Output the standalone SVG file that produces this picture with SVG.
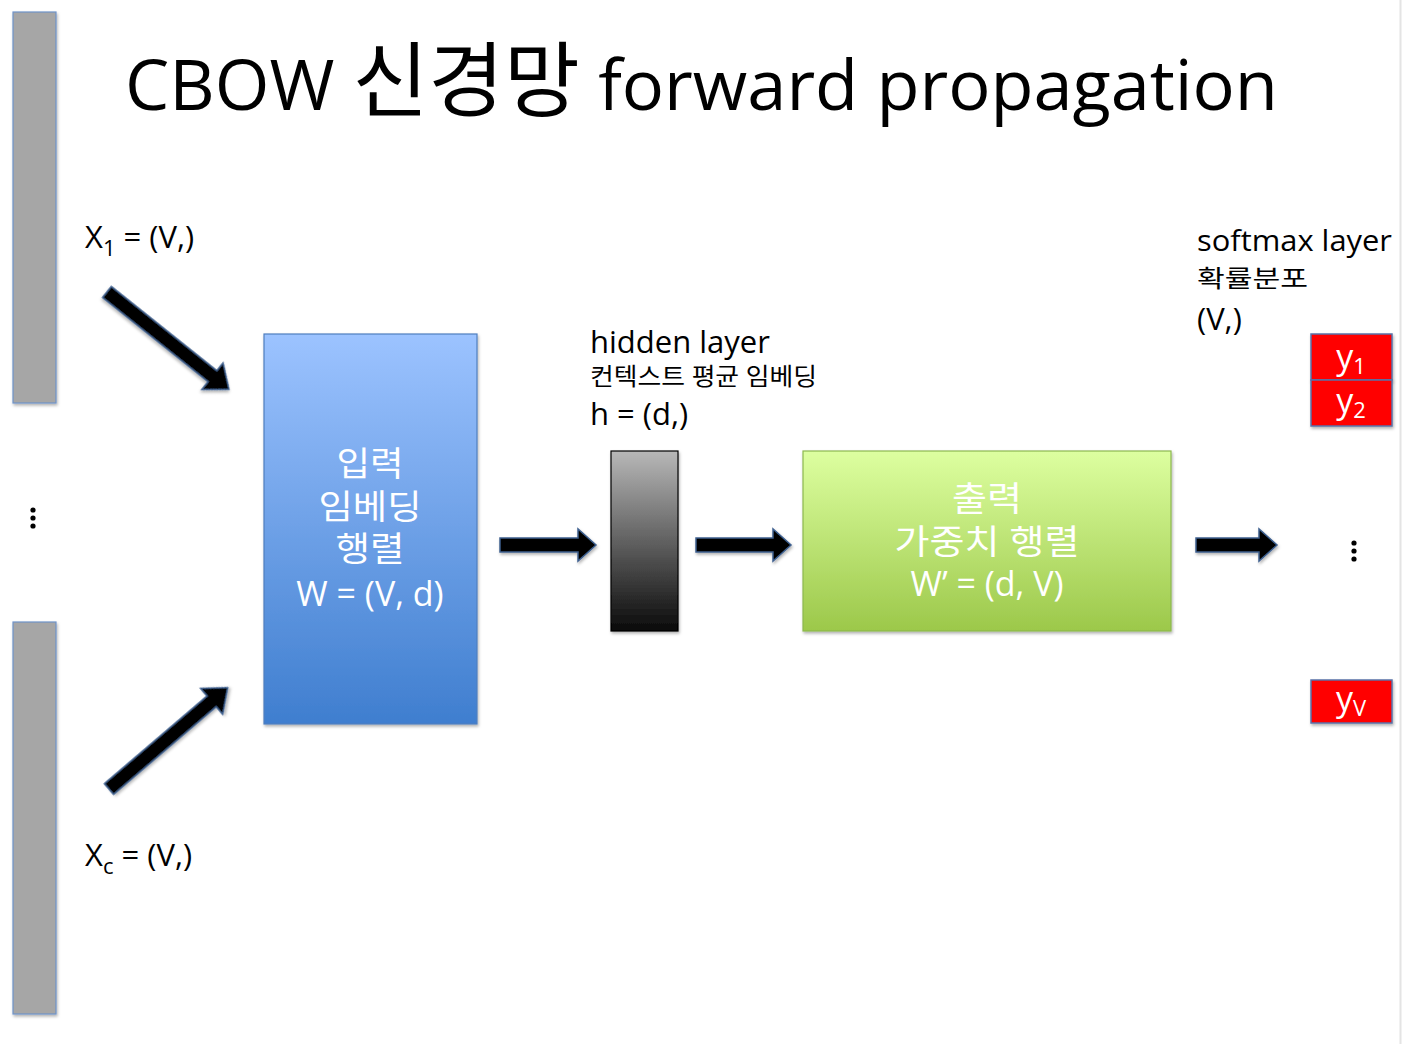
<svg xmlns="http://www.w3.org/2000/svg" width="1402" height="1044" viewBox="0 0 1402 1044">
<defs>
<linearGradient id="gBlue" x1="0" y1="0" x2="0" y2="1"><stop offset="0" stop-color="#9cc3ff"/><stop offset="1" stop-color="#3f7ecf"/></linearGradient>
<linearGradient id="gGray" x1="0" y1="0" x2="0" y2="1"><stop offset="0" stop-color="#b8b8b8"/><stop offset="1" stop-color="#0a0a0a"/></linearGradient>
<linearGradient id="gGreen" x1="0" y1="0" x2="0" y2="1"><stop offset="0" stop-color="#ddffa0"/><stop offset="1" stop-color="#9cc84a"/></linearGradient>
<filter id="sh" x="-20%" y="-20%" width="140%" height="140%"><feDropShadow dx="1" dy="2" stdDeviation="1.5" flood-color="#000" flood-opacity="0.3"/></filter>
<style>
text{font-family:"Open Sans","Noto Sans CJK KR",sans-serif;fill:#000}
.w{fill:#fff;text-anchor:middle;font-size:34px}
.bar{fill:#a6a6a6;stroke:#6f93c8;stroke-width:1.2;filter:url(#sh)}
.arr{fill:#000;stroke:#3d5f8f;stroke-width:1.5;filter:url(#sh)}
.red{fill:#ff0000;stroke:#5a72a8;stroke-width:1.5;filter:url(#sh)}
.lbl{font-size:31px}
</style>
</defs>
<rect width="1402" height="1044" fill="#fff"/>
<line x1="1400.5" y1="0" x2="1400.5" y2="1044" stroke="#e4e4e4" stroke-width="2"/>
<text id="title" x="125" y="110" font-size="70" textLength="1153" lengthAdjust="spacingAndGlyphs">CBOW <tspan font-size="82">신경망</tspan> forward propagation</text>

<g id="input-top"><rect class="bar" x="13" y="12" width="43" height="391"/></g>
<g id="input-bottom"><rect class="bar" x="13" y="622" width="43" height="392"/></g>
<g id="dots-left" fill="#000"><circle cx="33" cy="510" r="2.6"/><circle cx="33" cy="518" r="2.6"/><circle cx="33" cy="526" r="2.6"/></g>
<g id="label-x1"><text class="lbl" x="85" y="248">X<tspan font-size="22" dy="8">1</tspan><tspan dy="-8"> = (V,)</tspan></text></g>
<g id="label-xc"><text class="lbl" x="85" y="866">X<tspan font-size="22" dy="8">c</tspan><tspan dy="-8"> = (V,)</tspan></text></g>

<g id="W">
<rect x="264" y="334" width="213" height="390" fill="url(#gBlue)" stroke="#4f7fbf" stroke-width="1.2" filter="url(#sh)"/>
<text class="w" x="370" y="476" textLength="67" lengthAdjust="spacingAndGlyphs">입력</text>
<text class="w" x="370" y="519" textLength="103" lengthAdjust="spacingAndGlyphs">임베딩</text>
<text class="w" x="370" y="561" textLength="69" lengthAdjust="spacingAndGlyphs">행렬</text>
<text class="w" x="370" y="606">W = (V, d)</text>
</g>

<g id="hidden">
<rect x="611" y="451" width="67" height="180" fill="url(#gGray)" stroke="#000" stroke-width="1.2" filter="url(#sh)"/>
<text x="590" y="353" font-size="31">hidden layer</text>
<text x="590" y="385" font-size="24" textLength="227" lengthAdjust="spacingAndGlyphs">컨텍스트 평균 임베딩</text>
<text x="590" y="425" font-size="31">h = (d,)</text>
</g>

<g id="Wprime">
<rect x="803" y="451" width="368" height="180" fill="url(#gGreen)" stroke="#8db84f" stroke-width="1.2" filter="url(#sh)"/>
<text class="w" x="987" y="511" textLength="70" lengthAdjust="spacingAndGlyphs">출력</text>
<text class="w" x="987" y="554" textLength="185" lengthAdjust="spacingAndGlyphs">가중치 행렬</text>
<text class="w" x="987" y="596">W’ = (d, V)</text>
</g>

<g id="softmax">
<text x="1197" y="251" font-size="29" textLength="195" lengthAdjust="spacingAndGlyphs">softmax layer</text>
<text x="1197" y="287" font-size="24" textLength="111" lengthAdjust="spacingAndGlyphs">확률분포</text>
<text x="1197" y="330" font-size="31">(V,)</text>
<rect class="red" x="1311" y="334" width="81" height="46"/>
<rect class="red" x="1311" y="380" width="81" height="46"/>
<rect class="red" x="1311" y="680" width="81" height="43"/>
<text class="w" x="1351" y="369" font-size="31">y<tspan font-size="22" dy="5">1</tspan></text>
<text class="w" x="1351" y="413" font-size="31">y<tspan font-size="22" dy="5">2</tspan></text>
<text class="w" x="1351" y="711" font-size="31">y<tspan font-size="22" dy="5">V</tspan></text>
<g fill="#000"><circle cx="1354" cy="543" r="2.6"/><circle cx="1354" cy="551" r="2.6"/><circle cx="1354" cy="559" r="2.6"/></g>
</g>

<g id="connectors">
<polygon class="arr" transform="translate(107,292) rotate(38.6)" points="0,-7 135,-7 135,-17 156,0 135,17 135,7 0,7"/>
<polygon class="arr" transform="translate(109,789) rotate(-40.5)" points="0,-7 135,-7 135,-17 156,0 135,17 135,7 0,7"/>
<polygon class="arr" transform="translate(500,545)" points="0,-7 78,-7 78,-16 96,0 78,16 78,7 0,7"/>
<polygon class="arr" transform="translate(696,545)" points="0,-7 77,-7 77,-16 95,0 77,16 77,7 0,7"/>
<polygon class="arr" transform="translate(1196,545)" points="0,-7 63,-7 63,-16 81,0 63,16 63,7 0,7"/>
</g>
</svg>
